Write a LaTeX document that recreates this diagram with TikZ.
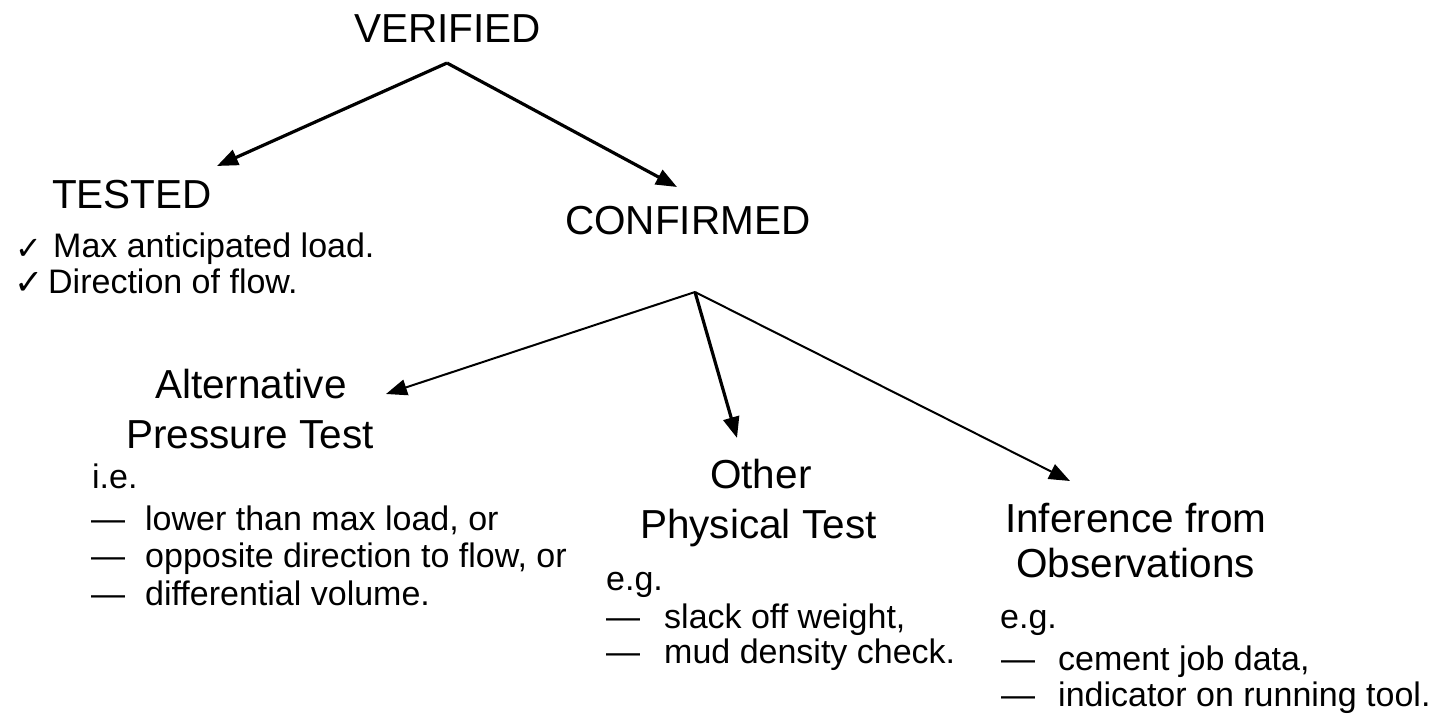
\documentclass[tikz,border=0pt]{standalone}
\usepackage{fontspec}
\setmainfont{Liberation Sans}
\newfontfamily\symfont{DejaVu Sans}
\usetikzlibrary{arrows.meta}
\tikzset{
  head/.style={font=\fontsize{40.5}{44}\selectfont, inner sep=0pt, anchor=base west},
  txt/.style={font=\fontsize{34}{38}\selectfont, inner sep=0pt, anchor=base west},
  chk/.style={font=\symfont\fontsize{32}{34}\selectfont, inner sep=0pt, anchor=base west},
  arrthick/.style={-{Triangle[length=21pt,width=16pt]}, line width=3.2pt},
  arrthin/.style={-{Triangle[length=21pt,width=16pt]}, line width=2pt},
}
\begin{document}
\begin{tikzpicture}[x=1pt,y=-1pt]
\fill[white] (0,0) rectangle (1440,714);
\useasboundingbox (0,0) rectangle (1440,714);

% headings
\node[head] (verified) at (354,43) {VERIFIED};
\node[head] (tested) at (52,208) {TESTED};
\node[head] (confirmed) at (565,235) {CONFIRMED};
\node[head] (alt1) at (155,398) {Alternative};
\node[head] (alt2) at (126,448) {Pressure Test};
\node[head] (oth1) at (710,488) {Other};
\node[head] (oth2) at (640,538) {Physical Test};
\node[head] (inf1) at (1005,532) {Inference from};
\node[head] (inf2) at (1016,577) {Observations};

% tested list
\node[chk] (c1) at (15,259) {✓};
\node[txt] (t1) at (53,258) {Max anticipated load.};
\node[chk,font=\symfont\fontsize{35}{37}\selectfont] (c2) at (14,294) {✓};
\node[txt] (t2) at (48,293) {Direction of flow.};

% alternative list
\node[txt] (a0) at (92,488) {i.e.};
\node[txt] (ad1) at (91,530) {—};
\node[txt] (a1) at (145,530) {lower than max load, or};
\node[txt] (ad2) at (91,567) {—};
\node[txt] (a2) at (145,567) {opposite direction to flow, or};
\node[txt] (ad3) at (91,605) {—};
\node[txt] (a3) at (145,605) {differential volume.};

% other list
\node[txt] (o0) at (606,590) {e.g.};
\node[txt] (od1) at (606,628) {—};
\node[txt] (o1) at (664,628) {slack off weight,};
\node[txt] (od2) at (606,663) {—};
\node[txt] (o2) at (664,663) {mud density check.};

% inference list
\node[txt] (i0) at (1000,628) {e.g.};
\node[txt] (id1) at (1001,670) {—};
\node[txt] (i1) at (1058,670) {cement job data,};
\node[txt] (id2) at (1001,706) {—};
\node[txt] (i2) at (1058,706) {indicator on running tool.};

% connector points
\coordinate (vapex) at (447,63);
\coordinate (ttip) at (217,166);
\coordinate (ctip) at (677,187);
\coordinate (capex) at (695,292);
\coordinate (atip) at (386,394);
\coordinate (otip) at (737,438);
\coordinate (itip) at (1070,481);

\draw[arrthick] (vapex) -- (ttip);
\draw[arrthick] (vapex) -- (ctip);
\draw[arrthin] (capex) -- (atip);
\draw[arrthick] (capex) -- (otip);
\draw[arrthin] (capex) -- (itip);
\end{tikzpicture}
\end{document}
